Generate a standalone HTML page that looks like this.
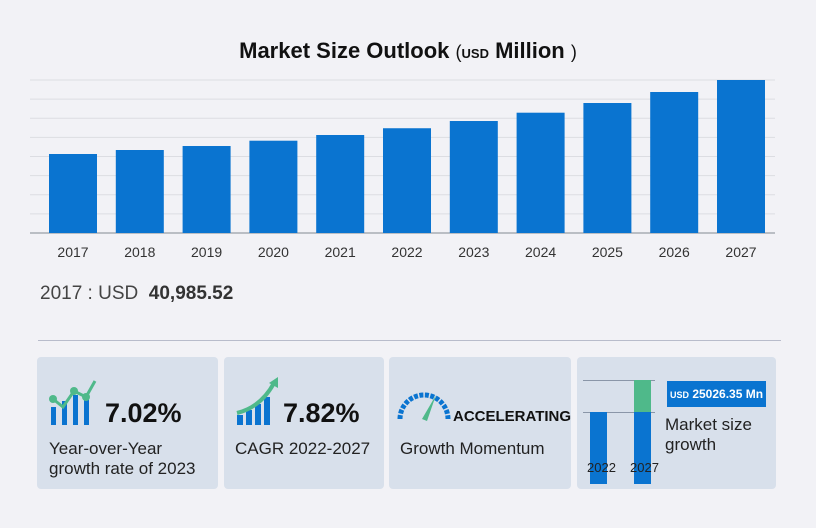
<!DOCTYPE html>
<html><head><meta charset="utf-8"><style>
body{margin:0;background:#f2f2f6;font-family:"Liberation Sans",sans-serif;}
#root{position:relative;width:816px;height:528px;overflow:hidden;background:#f2f2f6;}
.card{position:absolute;top:357px;height:132px;background:#d8e0eb;border-radius:4px;}
.t{position:absolute;color:#222;white-space:nowrap;}
</style></head><body>
<div id="root">
<div class="t" style="left:0;width:816px;text-align:center;top:38px;font-size:22px;font-weight:bold;color:#111;">Market Size Outlook <span style="font-weight:normal;font-size:18px">(</span><span style="font-size:13px">USD</span> Million <span style="font-weight:normal;font-size:18px">)</span></div>
<svg id="chart" width="816" height="270" style="position:absolute;left:0;top:0"></svg>
<div class="t" style="left:40px;top:283px;font-size:19px;color:#444;">2017 : USD &nbsp;<b style="color:#333">40,985.52</b></div>
<div style="position:absolute;left:38px;top:340px;width:743px;height:1px;background:#b8bccb"></div>

<div class="card" style="left:37px;width:181px;">
 <svg width="60" height="50" style="position:absolute;left:12px;top:20px">
  <rect x="2" y="30" width="5" height="18" fill="#0a74d0"/><rect x="13" y="24" width="5" height="24" fill="#0a74d0"/><rect x="24" y="18" width="5" height="30" fill="#0a74d0"/><rect x="35" y="22" width="5" height="26" fill="#0a74d0"/>
  <polyline points="4,22 14,30 25,14 37,20 46,4" fill="none" stroke="#4fb98a" stroke-width="3"/>
  <circle cx="4" cy="22" r="4" fill="#4fb98a"/><circle cx="25" cy="14" r="4" fill="#4fb98a"/><circle cx="37" cy="20" r="4" fill="#4fb98a"/>
 </svg>
 <div class="t" style="left:68px;top:41px;font-size:27px;font-weight:bold;color:#111">7.02%</div>
 <div class="t" style="left:12px;top:82px;font-size:17px;line-height:20px">Year-over-Year<br>growth rate of 2023</div>
</div>
<div class="card" style="left:224px;width:160px;">
 <svg width="50" height="50" style="position:absolute;left:12px;top:20px">
  <rect x="1" y="38" width="6" height="10" fill="#0a74d0"/><rect x="10" y="33" width="6" height="15" fill="#0a74d0"/><rect x="19" y="27" width="6" height="21" fill="#0a74d0"/><rect x="28" y="20" width="6" height="28" fill="#0a74d0"/>
  <path d="M1 36 Q25 30 38 6" fill="none" stroke="#4fb98a" stroke-width="4"/><polygon points="33,6 42,0 42,11" fill="#4fb98a"/>
 </svg>
 <div class="t" style="left:59px;top:41px;font-size:27px;font-weight:bold;color:#111">7.82%</div>
 <div class="t" style="left:11px;top:82px;font-size:17px">CAGR 2022-2027</div>
</div>
<div class="card" style="left:389px;width:182px;">
 <svg width="56" height="40" style="position:absolute;left:7px;top:28px">
  <path d="M4 34 A24 24 0 0 1 52 34" fill="none" stroke="#0a74d0" stroke-width="5" stroke-dasharray="4 1.5"/>
  <polygon points="26,34 40,10 31,36" fill="#4fb98a"/>
 </svg>
 <div class="t" style="left:64px;top:51px;font-size:15px;font-weight:bold;color:#111">ACCELERATING</div>
 <div class="t" style="left:11px;top:82px;font-size:17px">Growth Momentum</div>
</div>
<div class="card" style="left:577px;width:199px;">
 <div style="position:absolute;left:6px;top:23px;width:72px;height:1px;background:#8a96a8"></div>
 <div style="position:absolute;left:6px;top:55px;width:72px;height:1px;background:#8a96a8"></div>
 <div style="position:absolute;left:13px;top:55px;width:17px;height:72px;background:#0a74d0"></div>
 <div style="position:absolute;left:57px;top:23px;width:17px;height:32px;background:#4fb98a"></div>
 <div style="position:absolute;left:57px;top:55px;width:17px;height:72px;background:#0a74d0"></div>
 <div class="t" style="left:10px;top:103px;font-size:13px">2022</div>
 <div class="t" style="left:53px;top:103px;font-size:13px">2027</div>
 <div style="position:absolute;left:90px;top:24px;width:99px;height:26px;background:#0a74d0;color:#fff;font-size:12px;font-weight:bold;line-height:26px;text-align:center;white-space:nowrap"><span style="font-size:9px">USD</span> 25026.35 Mn</div>
 <div class="t" style="left:88px;top:58px;font-size:17px;line-height:20px">Market size<br>growth</div>
</div>
</div>
<script>
const years=["2017","2018","2019","2020","2021","2022","2023","2024","2025","2026","2027"];
const values=[40986,43060,45130,47880,50840,54350,58100,62410,67440,73150,79376];
const yMax=79376, gridCount=8;
const svg=document.getElementById('chart');
const NS='http://www.w3.org/2000/svg';
const x0=30,x1=775,yTop=80,yBase=233;
const yScale=v=>yBase-(v/yMax)*(yBase-yTop);
const pitch=(x1-x0-16)/years.length;
const xScale=i=>x0+19+i*66.8;
for(let g=0;g<=gridCount;g++){
 const y=yTop+g*(yBase-yTop)/gridCount;
 const l=document.createElementNS(NS,'line');
 
 
 l.setAttribute('x1',x0);l.setAttribute('x2',x1);l.setAttribute('y1',y);l.setAttribute('y2',y);
 l.setAttribute('stroke',g===gridCount?'#a8acb4':'#dcdde2');l.setAttribute('stroke-width',g===gridCount?1.5:1);
 svg.appendChild(l);
}
years.forEach((yr,i)=>{
 const r=document.createElementNS(NS,'rect');
 
 
 const y=yScale(values[i]);
 r.setAttribute('x',xScale(i));r.setAttribute('width',48);r.setAttribute('y',y);r.setAttribute('height',yBase-y);
 r.setAttribute('fill','#0a74d0');
 svg.appendChild(r);
 const t=document.createElementNS(NS,'text');
 
 
 t.setAttribute('x',xScale(i)+24);t.setAttribute('y',257);t.setAttribute('text-anchor','middle');
 t.setAttribute('font-size','14');t.setAttribute('fill','#333');t.setAttribute('font-family','Liberation Sans, sans-serif');
 t.textContent=yr;svg.appendChild(t);
});
</script>
</body></html>
